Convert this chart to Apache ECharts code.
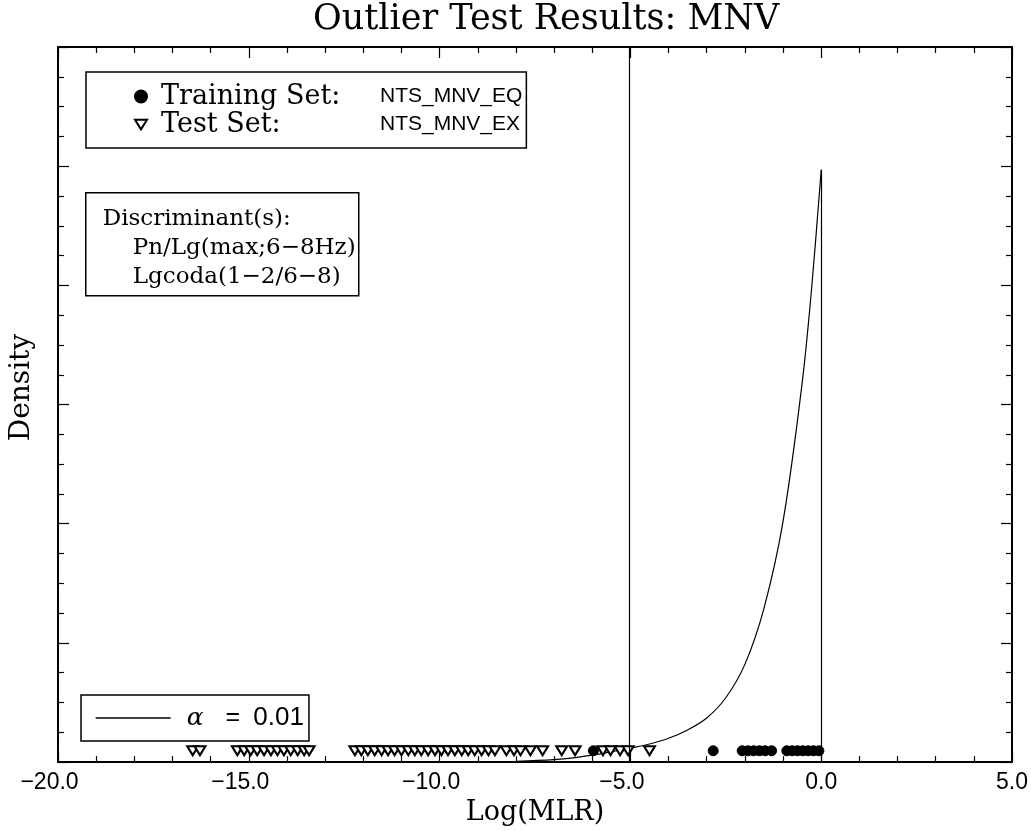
<!DOCTYPE html>
<html>
<head>
<meta charset="utf-8">
<script src="https://cdn.jsdelivr.net/npm/echarts@6/dist/echarts.min.js"></script>
<style>
html,body{margin:0;padding:0;background:#fff;}
#chart{width:1031px;height:831px;}
</style>
</head>
<body>
<div id="chart"></div>
<script>
// ---- data ----
const titleText = 'Outlier Test Results: MNV';
const xName = 'Log(MLR)';
const yName = 'Density';
const xTicks = [-20, -15, -10, -5, 0, 5];
const trainName = 'Training Set:';
const trainFile = 'NTS_MNV_EQ';
const testName = 'Test Set:';
const testFile = 'NTS_MNV_EX';
const alphaLabel = '0.01';
const discLines = ['Discriminant(s):', 'Pn/Lg(max;6\u22128Hz)', 'Lgcoda(1\u22122/6\u22128)'];

// density curve (x = Log(MLR), y = density)
const curveX = [-8, -7, -6.5, -6, -5.5, -5, -4.5, -4, -3.5, -3, -2.5, -2, -1.5, -1, -0.5, -0.25, 0];
const curveY = [0.006, 0.021, 0.035, 0.058, 0.087, 0.118, 0.152, 0.20, 0.27, 0.37, 0.54, 0.82, 1.29, 2.02, 3.18, 3.98, 4.97];
const curvePeak = 4.97;
const threshold = -5.02; // alpha = 0.01 cut

// training-set events (circles)
const trainX = [-5.97, -2.83, -2.07, -1.92, -1.77, -1.62, -1.47, -1.30, -0.90, -0.76, -0.62, -0.48, -0.34, -0.20, -0.06];
// test-set events (triangles)
const testX = [-16.47, -16.28,
  -15.30, -15.12, -14.95, -14.78, -14.60, -14.42, -14.25, -14.08, -13.90, -13.72, -13.55, -13.42,
  -12.22, -12.05, -11.88, -11.70, -11.52, -11.35, -11.18, -11.00, -10.82, -10.65, -10.48, -10.30,
  -10.12, -9.95, -9.78, -9.60, -9.42, -9.25, -9.08, -8.90, -8.72, -8.55,
  -8.25, -8.05, -7.88, -7.62, -7.30,
  -6.80, -6.45,
  -5.72, -5.52, -5.27, -5.06, -4.50];
const markerY = 0.095;

// ---- chart ----
const serif = 'DejaVu Serif';
const sans = 'Liberation Sans';
const chart = echarts.init(document.getElementById('chart'), null, {renderer: 'canvas'});

const tri = 'path://M0,0 L10,0 L5,8 Z';

function fmtTick(v) {
  const s = Math.abs(v).toFixed(1);
  if (v < 0) return '{n|\u2212' + s + '}';
  return '{p|' + s + '}';
}

const axisCommonX = {
  type: 'value', min: -20, max: 5, interval: 5,
  axisLine: {show: true, onZero: false, lineStyle: {color: '#000', width: 2}},
  axisTick: {show: true, inside: true, length: 11, lineStyle: {color: '#000', width: 1.2}},
  minorTick: {show: true, splitNumber: 5, length: 6, lineStyle: {color: '#000', width: 1.2}},
  splitLine: {show: false}
};
const axisCommonY = {
  type: 'value', min: 0, max: 6, interval: 1,
  axisLine: {show: true, onZero: false, lineStyle: {color: '#000', width: 2}},
  axisTick: {show: true, inside: true, length: 11, lineStyle: {color: '#000', width: 1.2}},
  minorTick: {show: true, splitNumber: 4, length: 6, lineStyle: {color: '#000', width: 1.2}},
  splitLine: {show: false},
  axisLabel: {show: false}
};

const option = {
  backgroundColor: '#fff',
  animation: false,
  title: {
    text: titleText,
    left: 313,
    top: -2,
    padding: [4, 0, 4, 0],
    textStyle: {fontFamily: serif, fontSize: 35, fontWeight: 'normal', color: '#000'}
  },
  grid: {left: 57, right: 19, top: 47, bottom: 67, containLabel: false},
  xAxis: [
    Object.assign({}, axisCommonX, {
      position: 'bottom',
      name: xName, nameLocation: 'middle', nameGap: 32,
      nameTextStyle: {fontFamily: serif, fontSize: 27, color: '#000'},
      axisLabel: {
        show: true, margin: 9, formatter: fmtTick,
        customValues: xTicks,
        rich: {
          n: {fontFamily: sans, fontSize: 23, color: '#000', padding: [0, 17, 0, 0]},
          p: {fontFamily: sans, fontSize: 23, color: '#000'}
        }
      }
    }),
    Object.assign({}, axisCommonX, {position: 'top', axisLabel: {show: false}})
  ],
  yAxis: [
    Object.assign({}, axisCommonY, {
      position: 'left',
      name: yName, nameLocation: 'middle', nameGap: 22,
      nameTextStyle: {fontFamily: serif, fontSize: 28, color: '#000', padding: [0, 0, 0, 34]}
    }),
    Object.assign({}, axisCommonY, {position: 'right'})
  ],
  legend: [
    {
      data: ['train', 'test'],
      orient: 'vertical',
      left: 86, top: 72,
      selectedMode: false,
      borderColor: '#000', borderWidth: 1.5,
      padding: [11, 4, 10, 48],
      itemWidth: 12, itemHeight: 12, itemGap: 1,
      formatter: function (name) {
        return name === 'train'
          ? '{a|' + trainName + '}{b|' + trainFile + '}'
          : '{a|' + testName + '}{b|' + testFile + '}';
      },
      textStyle: {
        padding: [0, 0, 0, 9],
        lineHeight: 22,
        rich: {
          a: {fontFamily: serif, fontSize: 27, color: '#000', width: 219, lineHeight: 22},
          b: {fontFamily: sans, fontSize: 21, color: '#000', lineHeight: 22}
        }
      }
    },
    {
      data: ['alpha'],
      left: 81, top: 695,
      selectedMode: false,
      borderColor: '#000', borderWidth: 1.5,
      padding: [10, 5, 10, 14],
      itemWidth: 75, itemHeight: 14,
      itemStyle: {opacity: 0},
      lineStyle: {color: '#000', width: 1.3, opacity: 1},
      formatter: function () { return '{i|\u03b1}{e|=}{n| ' + alphaLabel + '}'; },
      textStyle: {
        padding: [0, 0, 0, 11],
        rich: {
          i: {fontFamily: serif, fontStyle: 'italic', fontSize: 25, color: '#000'},
          e: {fontFamily: sans, fontSize: 25, color: '#000', padding: [0, 6, 0, 22]},
          n: {fontFamily: sans, fontSize: 26, color: '#000'}
        }
      }
    }
  ],
  graphic: [
    {
      type: 'group', left: 85, top: 192,
      children: [
        {type: 'rect', shape: {x: 0, y: 0, width: 273, height: 103},
          style: {fill: '#fff', stroke: '#000', lineWidth: 1.5}},
        {type: 'text', x: 17, y: 26, style: {text: discLines[0], font: '23px "DejaVu Serif"', fill: '#000', verticalAlign: 'middle'}},
        {type: 'text', x: 47, y: 55, style: {text: discLines[1], font: '23px "DejaVu Serif"', fill: '#000', verticalAlign: 'middle'}},
        {type: 'text', x: 47, y: 84, style: {text: discLines[2], font: '23px "DejaVu Serif"', fill: '#000', verticalAlign: 'middle'}}
      ]
    }
  ],
  series: [
    {
      name: 'alpha', type: 'line',
      xAxisIndex: 0, yAxisIndex: 0,
      data: curveX.map((x, i) => [x, curveY[i]]),
      smooth: 0.35,
      symbol: 'none', showSymbol: false,
      lineStyle: {color: '#000', width: 1.2},
      itemStyle: {color: '#000'},
      markLine: {
        silent: true, symbol: ['none', 'none'], label: {show: false},
        lineStyle: {color: '#000', width: 1.2, type: 'solid'},
        data: [
          {xAxis: threshold},
          [{coord: [0, 0]}, {coord: [0, curvePeak]}]
        ]
      },
      z: 3
    },
    {
      name: 'test', type: 'scatter',
      data: testX.map(x => [x, markerY]),
      symbol: tri, symbolSize: [11, 9],
      itemStyle: {color: '#fff', borderColor: '#000', borderWidth: 2, opacity: 1},
      z: 4
    },
    {
      name: 'train', type: 'scatter',
      data: trainX.map(x => [x, markerY]),
      symbol: 'circle', symbolSize: 10,
      itemStyle: {color: '#000', borderColor: '#000', borderWidth: 1, opacity: 1},
      z: 5
    }
  ]
};
chart.setOption(option);
</script>
</body>
</html>
